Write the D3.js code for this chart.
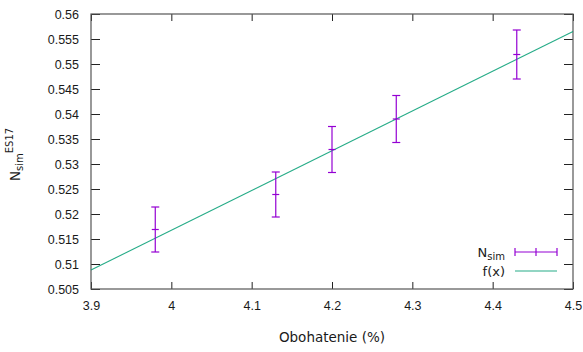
<!DOCTYPE html>
<html>
<head>
<meta charset="utf-8">
<script src="https://cdn.jsdelivr.net/npm/d3@7"></script>
<style>
  html, body { margin: 0; padding: 0; background: #fff; }
  svg { display: block; font-family: "DejaVu Sans", Verdana, sans-serif; }
</style>
</head>
<body>
<script>
// Enrichment (%) of each simulated case
const enrichment = [3.98, 4.13, 4.20, 4.28, 4.43];
// N_sim (ES17) values and their uncertainties
const nSim = [0.5169, 0.5239, 0.5329, 0.5390, 0.5519];
const nSimErr = [0.0045, 0.0045, 0.0046, 0.0047, 0.0049];
// Linear fit f(x) = slope * x + intercept
const fitSlope = 0.0795;
const fitIntercept = 0.19875;
// Axis ticks
const xTicks = [3.9, 4.0, 4.1, 4.2, 4.3, 4.4, 4.5];
const yTicks = [0.505, 0.51, 0.515, 0.52, 0.525, 0.53, 0.535, 0.54, 0.545, 0.55, 0.555, 0.56];

const W = 583, H = 352;
const plot = { left: 91, right: 573, top: 14, bottom: 289 };
const violet = "#9400d3", green = "#009e73", textCol = "#1a1a1a";

const svg = d3.select("body").append("svg").attr("width", W).attr("height", H);

const x = d3.scaleLinear().domain([3.9, 4.5]).range([plot.left, plot.right]);
const y = d3.scaleLinear().domain([0.505, 0.56]).range([plot.bottom, plot.top]);

const fmtX = d => d3.format("")(+d.toFixed(1));
const fmtY = d => d3.format("")(+d.toFixed(3));

// Axes with inward ticks, mirrored on the top and right
function styleAxis(g) {
  g.select(".domain").remove();
  g.selectAll(".tick line").attr("stroke", "#222").attr("stroke-width", 1);
  g.selectAll(".tick text").attr("fill", textCol).style("font-size", "12.5px");
}
svg.append("g").attr("transform", `translate(0,${plot.bottom})`)
  .call(d3.axisBottom(x).tickValues(xTicks).tickFormat(fmtX).tickSizeInner(-7).tickSizeOuter(0).tickPadding(12))
  .call(styleAxis);
svg.append("g").attr("transform", `translate(0,${plot.top})`)
  .call(d3.axisTop(x).tickValues(xTicks).tickFormat("").tickSizeInner(-7).tickSizeOuter(0))
  .call(styleAxis);
svg.append("g").attr("transform", `translate(${plot.left},0)`)
  .call(d3.axisLeft(y).tickValues(yTicks).tickFormat(fmtY).tickSizeInner(-9).tickSizeOuter(0).tickPadding(12))
  .call(styleAxis);
svg.append("g").attr("transform", `translate(${plot.right},0)`)
  .call(d3.axisRight(y).tickValues(yTicks).tickFormat("").tickSizeInner(-9).tickSizeOuter(0))
  .call(styleAxis);

// Plot border
svg.append("rect")
  .attr("x", plot.left).attr("y", plot.top)
  .attr("width", plot.right - plot.left).attr("height", plot.bottom - plot.top)
  .attr("fill", "none").attr("stroke", "#555").attr("stroke-width", 1.2);

// Fit line
const f = v => fitSlope * v + fitIntercept;
const fitDomain = x.domain();
svg.append("line")
  .attr("x1", x(fitDomain[0])).attr("y1", y(f(fitDomain[0])))
  .attr("x2", x(fitDomain[1])).attr("y2", y(f(fitDomain[1])))
  .attr("stroke", green).attr("stroke-width", 1.1).attr("stroke-opacity", 0.85);

// Error bars
const pts = enrichment.map((e, i) => ({ x: e, y: nSim[i], err: nSimErr[i] }));
const eb = svg.append("g").attr("stroke", violet).attr("stroke-width", 1.2).attr("fill", "none");
pts.forEach(p => {
  const cx = x(p.x);
  eb.append("line").attr("x1", cx).attr("x2", cx).attr("y1", y(p.y - p.err)).attr("y2", y(p.y + p.err));
  eb.append("line").attr("x1", cx - 4).attr("x2", cx + 4).attr("y1", y(p.y + p.err)).attr("y2", y(p.y + p.err));
  eb.append("line").attr("x1", cx - 4).attr("x2", cx + 4).attr("y1", y(p.y - p.err)).attr("y2", y(p.y - p.err));
  eb.append("line").attr("x1", cx - 3.5).attr("x2", cx + 3.5).attr("y1", y(p.y)).attr("y2", y(p.y));
});

// Legend
const lg = svg.append("g");
const lgTextX = 505, lgSample = [515, 557];
const row1 = 252, row2 = 271;
const t1 = lg.append("text").attr("x", lgTextX).attr("y", row1 + 4.5).attr("text-anchor", "end")
  .attr("fill", textCol).style("font-size", "13px");
t1.append("tspan").text("N");
t1.append("tspan").attr("dy", 3).style("font-size", "10px").text("sim");
lg.append("line").attr("x1", lgSample[0]).attr("x2", lgSample[1]).attr("y1", row1).attr("y2", row1)
  .attr("stroke", violet).attr("stroke-width", 1.2);
[lgSample[0], (lgSample[0] + lgSample[1]) / 2, lgSample[1]].forEach(px => {
  lg.append("line").attr("x1", px).attr("x2", px).attr("y1", row1 - 4).attr("y2", row1 + 4)
    .attr("stroke", violet).attr("stroke-width", 1.2);
});
lg.append("text").attr("x", lgTextX).attr("y", row2 + 4.5).attr("text-anchor", "end")
  .attr("fill", textCol).style("font-size", "13px").text("f(x)");
lg.append("line").attr("x1", lgSample[0]).attr("x2", lgSample[1]).attr("y1", row2).attr("y2", row2)
  .attr("stroke", green).attr("stroke-width", 1.1).attr("stroke-opacity", 0.85);

// Axis titles
svg.append("text").attr("x", (plot.left + plot.right) / 2).attr("y", 342)
  .attr("text-anchor", "middle").attr("fill", textCol).style("font-size", "13.5px").text("Obohatenie (%)");

const yl = svg.append("text")
  .attr("transform", `translate(20,${(plot.top + plot.bottom) / 2 + 3}) rotate(-90)`)
  .attr("text-anchor", "middle").attr("fill", textCol).style("font-size", "13.5px");
yl.append("tspan").text("N");
yl.append("tspan").attr("dy", 3).style("font-size", "10px").text("sim");
yl.append("tspan").attr("dy", -10).style("font-size", "10px").text("ES17");
</script>
</body>
</html>
